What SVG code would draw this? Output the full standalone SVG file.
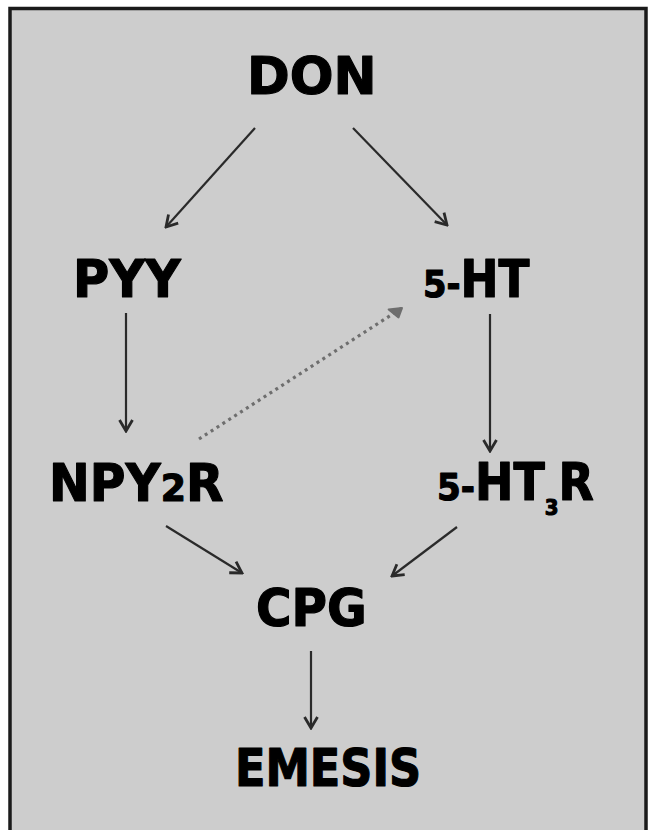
<svg xmlns="http://www.w3.org/2000/svg" width="648" height="830" viewBox="0 0 648 830">
  <style>
    .lbl { font-family: "DejaVu Sans", "Liberation Sans", sans-serif; font-weight: bold; font-size: 51px; fill: #000; stroke: #000; stroke-width: 1.2; stroke-linejoin: round; }
    .sm { font-size: 38px; }
    .sub { font-size: 22px; }
    .edge { stroke: #2a2a2a; stroke-width: 2.2; fill: none; marker-end: url(#arr); }
    .dot { stroke: #6e6e6e; stroke-width: 3.2; fill: none; stroke-dasharray: 3 4; marker-end: url(#arrDot); }
  </style>
  <defs>
    <marker id="arr" markerUnits="userSpaceOnUse" viewBox="-14 -9 16 18" refX="0" refY="0" markerWidth="16" markerHeight="18" orient="auto">
      <path d="M-11,-6.5 L0,0 L-11,6.5" fill="none" stroke="#2a2a2a" stroke-width="2.8" stroke-linejoin="miter"/>
    </marker>
    <marker id="arrDot" markerUnits="userSpaceOnUse" viewBox="-14 -9 16 18" refX="0" refY="0" markerWidth="16" markerHeight="18" orient="auto">
      <path d="M-12,-6 L0,0 L-8,6 Z" fill="#6e6e6e" stroke="#6e6e6e" stroke-width="2" stroke-linejoin="round"/>
    </marker>
  </defs>

  <rect x="0" y="0" width="648" height="830" fill="#fff"/>
  <rect x="10" y="8.5" width="636" height="840" fill="#cdcdcd" stroke="#1a1a1a" stroke-width="3.5"/>

  <g id="connectors">
    <line class="edge" x1="255" y1="128" x2="166" y2="227"/>
    <line class="edge" x1="353" y1="128" x2="447" y2="225"/>
    <line class="edge" x1="126" y1="313" x2="126" y2="431"/>
    <line class="edge" x1="490" y1="314" x2="490" y2="451"/>
    <line class="edge" x1="166" y1="526" x2="242" y2="573"/>
    <line class="edge" x1="457" y1="527" x2="392" y2="576"/>
    <line class="edge" x1="311" y1="651" x2="311" y2="728"/>
    <line class="dot" x1="199" y1="439" x2="402" y2="308"/>
  </g>

  <g id="don"><text class="lbl" transform="translate(247,94) scale(1.01,1)">DON</text></g>
  <g id="pyy"><text class="lbl" transform="translate(73,297) scale(0.97,1)">PYY</text></g>
  <g id="ht5"><text class="lbl" transform="translate(423,297) scale(0.89,1)"><tspan class="sm">5-</tspan>HT</text></g>
  <g id="npy2r"><text class="lbl" transform="translate(49,501) scale(0.955,1)">NPY<tspan class="sm">2</tspan>R</text></g>
  <g id="ht3r"><text class="lbl" transform="translate(437,500) scale(0.9,1)"><tspan class="sm">5-</tspan>HT<tspan class="sub" dy="15">3</tspan><tspan dy="-15">R</tspan></text></g>
  <g id="cpg"><text class="lbl" transform="translate(256,626) scale(0.95,1)">CPG</text></g>
  <g id="emesis"><text class="lbl" transform="translate(235,786) scale(0.875,1)">EMESIS</text></g>
</svg>
